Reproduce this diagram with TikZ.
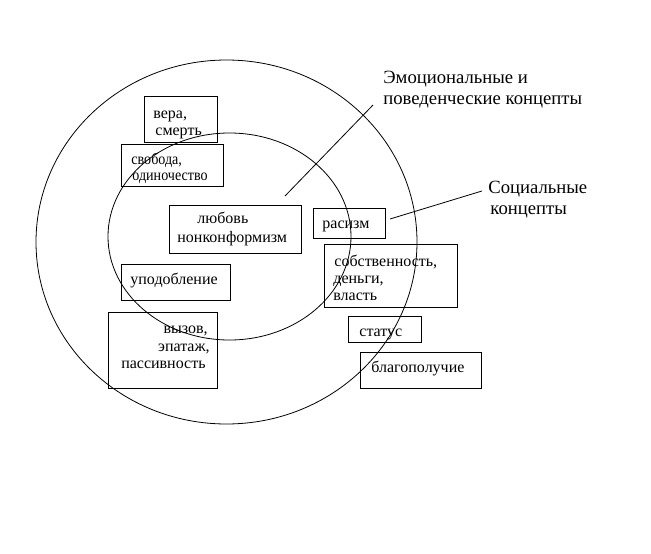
\documentclass[tikz,border=0pt]{standalone}
\usepackage{fontspec}
\setmainfont{Liberation Serif}
\newfontfamily\narrowserif[FakeStretch=0.88]{Liberation Serif}
\usetikzlibrary{shapes.geometric}
\begin{document}
\begin{tikzpicture}[x=0.75pt,y=-0.75pt,line width=0.6pt,
  ring/.style={draw,ellipse,inner sep=0pt},
  cbox/.style 2 args={draw,inner sep=0pt,minimum width=#1*0.75pt,minimum height=#2*0.75pt},
  txt/.style={inner sep=0pt,anchor=base west,font=\fontsize{12}{14}\selectfont},
  ntxt/.style={inner sep=0pt,anchor=base west,font=\narrowserif\fontsize{12}{14}\selectfont},
  rtxt/.style={inner sep=0pt,anchor=base east,font=\fontsize{12}{14}\selectfont},
  lbl/.style={inner sep=0pt,anchor=base west,font=\fontsize{14}{17}\selectfont},
  lead/.style={draw,line width=0.6pt}]
\useasboundingbox (0,0) rectangle (651,554);
% rings
\node[ring,minimum width=285.75pt,minimum height=273pt] (outer) at (226.5,242) {};
\node[ring,minimum width=182.25pt,minimum height=155.25pt] (inner) at (229.5,236.5) {};
% boxes
\node[cbox={73}{46}] (vera) at (180.5,119) {};
\node[cbox={102}{42}] (svob) at (172,165) {};
\node[cbox={132}{48}] (lyub) at (235,229) {};
\node[cbox={72}{30}] (rasizm) at (349,223) {};
\node[cbox={133}{63}] (sobst) at (390.5,275.5) {};
\node[cbox={73}{26}] (status) at (384.5,329) {};
\node[cbox={121}{36}] (blago) at (420.5,370) {};
\node[cbox={109}{36}] (upod) at (175.5,282) {};
\node[cbox={109}{76}] (vyzov) at (162.5,350) {};
% box texts
\node[txt] (t1a) at (153,118) {вера,};
\node[txt] (t1b) at (155,135) {смерть};
\node[ntxt] (t2a) at (131,164) {свобода,};
\node[ntxt] (t2b) at (132,180) {одиночество};
\node[txt] (t3a) at (197,223) {любовь};
\node[txt] (t3b) at (177,242) {нонконформизм};
\node[txt] (t4) at (322,228) {расизм};
\node[txt] (t5a) at (334,266) {собственность,};
\node[txt] (t5b) at (333,283) {деньги,};
\node[txt] (t5c) at (333,300) {власть};
\node[txt] (t6) at (359,336) {статус};
\node[txt] (t7) at (371,372) {благополучие};
\node[txt] (t8) at (130,284) {уподобление};
\node[rtxt] (t9a) at (208,333) {вызов,};
\node[rtxt] (t9b) at (210,351) {эпатаж,};
\node[rtxt] (t9c) at (206,368) {пассивность};
% labels
\node[lbl] (emoA) at (383,83) {Эмоциональные и};
\node[lbl] (emoB) at (383,104) {поведенческие концепты};
\node[lbl] (socA) at (488,193) {Социальные};
\node[lbl] (socB) at (490,214) {концепты};
% leader lines
\coordinate (emoS) at (285,196);
\coordinate (emoE) at (373,105);
\coordinate (socS) at (390,219);
\coordinate (socE) at (482,191);
\draw[lead] (emoS) -- (emoE);
\draw[lead] (socS) -- (socE);
\end{tikzpicture}
\end{document}
